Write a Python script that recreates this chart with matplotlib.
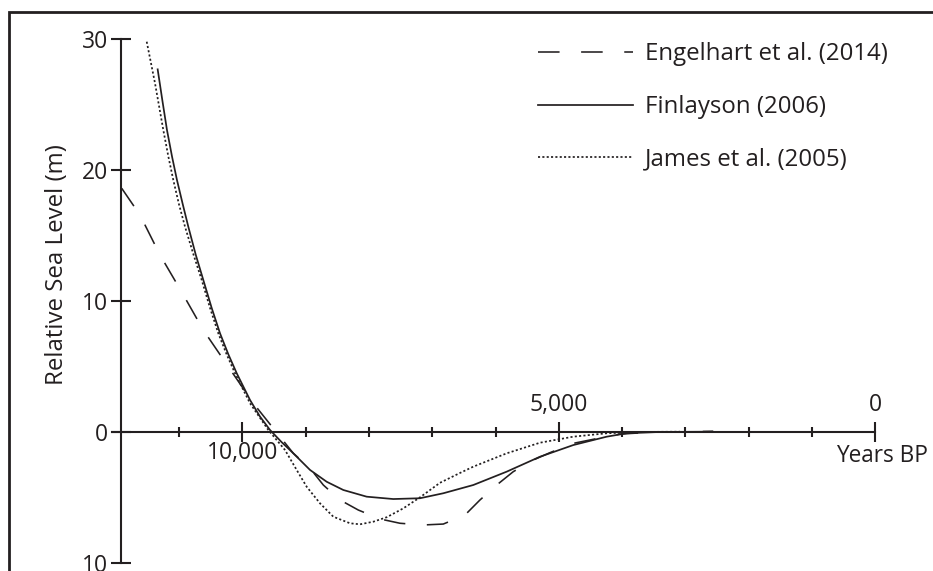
import matplotlib
matplotlib.use("Agg")
import matplotlib.pyplot as plt
from matplotlib.lines import Line2D
from matplotlib.ticker import FixedLocator, FixedFormatter

# ---------------- data (years BP, relative sea level in m) ----------------
engelhart_years = [11905, 11616, 11300, 10957, 10616, 10221, 9826, 9404, 9194, 8930,
                   8720, 8457, 8167, 7825, 7509, 7141, 6825, 6482, 6245, 5981,
                   5719, 5403, 5139, 4771, 4455, 4033, 3559, 2564]
engelhart_rsl = [18.58, 16.54, 13.49, 10.66, 7.76, 4.96, 2.17, -0.38, -1.65, -2.79,
                 -4.07, -5.21, -5.98, -6.66, -6.99, -7.12, -7.05, -6.36, -5.21, -4.07,
                 -3.05, -2.16, -1.60, -0.89, -0.58, -0.18, -0.05, 0.03]

finlayson_years = [11337, 11260, 11190, 11110, 11032, 10940, 10853, 10735, 10616, 10484,
                   10352, 10220, 10088, 9878, 9720, 9562, 9378, 9194, 8930, 8667,
                   8404, 8035, 7615, 7193, 6825, 6351, 5823, 5297, 4771, 4243,
                   3927, 3401, 2564]
finlayson_rsl = [27.66, 25.20, 23.03, 21.00, 19.21, 17.35, 15.65, 13.50, 11.58, 9.45,
                 7.51, 5.90, 4.46, 2.42, 1.15, 0.13, -0.80, -1.65, -2.92, -3.82,
                 -4.45, -4.96, -5.14, -5.08, -4.70, -4.07, -3.05, -1.91, -1.02, -0.38,
                 -0.12, -0.02, 0.0]

james_years = [11510, 11379, 11248, 11170, 11090, 11000, 10905, 10773, 10641, 10510,
               10379, 10247, 10115, 9878, 9589, 9325, 9141, 8983, 8772, 8562,
               8299, 8141, 7930, 7719, 7456, 7193, 6877, 6561, 6351, 5823,
               5297, 4771, 4243, 3717, 3085]
james_rsl = [29.77, 26.60, 23.03, 21.05, 19.21, 17.35, 15.65, 13.55, 11.58, 9.45,
             7.51, 5.90, 4.46, 2.17, 0.13, -1.40, -2.92, -4.20, -5.47, -6.49,
             -6.99, -7.07, -6.87, -6.53, -5.85, -5.01, -3.90, -3.15, -2.67, -1.65,
             -0.84, -0.38, -0.12, -0.02, 0.0]

series_labels = ["Engelhart et al. (2014)", "Finlayson (2006)", "James et al. (2005)"]

y_ticks = [30, 20, 10, 0, -10]
y_tick_labels = ["30", "20", "10", "0", "10"]
x_major = [10000, 5000, 0]
x_major_labels = ["10,000", "5,000", "0"]
x_minor = [11000, 9000, 8000, 7000, 6000, 4000, 3000, 2000, 1000]

# ---------------- styling ----------------
plt.rcParams['font.family'] = ['Open Sans', 'DejaVu Sans']
INK = '#231f20'
FS_TICK = 16.5
FS_LAB = 17.3

W, H = 933, 571
fig = plt.figure(figsize=(W / 100, H / 100), dpi=100)
ax = fig.add_axes([0, 0, 1, 1])
ax.set_facecolor('none')

# pixel -> data mapping derived from reference
def px_to_year(px):
    return 10000 - (px - 242.3) * 1000 / 63.3

def py_to_m(py):
    return (431.7 - py) / 13.1

ax.set_xlim(px_to_year(0), px_to_year(W))
ax.set_ylim(py_to_m(H), py_to_m(0))

# curves
ax.plot(engelhart_years, engelhart_rsl, color=INK, lw=1.15,
        linestyle=(0, (13.5, 13.5)), label=series_labels[0], solid_capstyle='butt',
        dash_capstyle='butt')
ax.plot(finlayson_years, finlayson_rsl, color=INK, lw=1.25, label=series_labels[1])
ax.plot(james_years, james_rsl, color=INK, lw=1.25,
        linestyle=(0, (1.2, 1.3)), label=series_labels[2])

# axes spines
for s in ['top', 'right']:
    ax.spines[s].set_visible(False)
ax.spines['left'].set_position(('data', px_to_year(121)))
ax.spines['left'].set_bounds(-10, 30)
ax.spines['bottom'].set_position(('data', 0))
ax.spines['bottom'].set_bounds(0, px_to_year(112))
for s in ['left', 'bottom']:
    ax.spines[s].set_linewidth(1.5)
    ax.spines[s].set_color(INK)

ax.yaxis.set_major_locator(FixedLocator(y_ticks))
ax.yaxis.set_major_formatter(FixedFormatter(y_tick_labels))
ax.tick_params(axis='y', direction='inout', length=14, width=1.5, color=INK,
               labelsize=FS_TICK, labelcolor=INK, pad=2.0)

ax.xaxis.set_major_locator(FixedLocator(x_major))
ax.xaxis.set_major_formatter(FixedFormatter([x_major_labels[0], '', '']))
ax.xaxis.set_minor_locator(FixedLocator(x_minor))
ax.tick_params(axis='x', which='major', direction='inout', length=14, width=1.5,
               color=INK, labelsize=FS_TICK, labelcolor=INK, pad=0.0)
ax.tick_params(axis='x', which='minor', direction='inout', length=7, width=1.5,
               color=INK)

# labels above axis for 5,000 and 0
for xv, lab in zip(x_major[1:], x_major_labels[1:]):
    ax.annotate(lab, xy=(xv, 0), xytext=(0, 19), textcoords='offset points',
                ha='center', va='center', fontsize=FS_TICK, color=INK)

ax.annotate("Years BP", xy=(0, 0), xytext=(-28, -17.5), textcoords='offset points',
            ha='left', va='center', fontsize=16.3, color=INK)

fig.text(57 / W, 1 - 265 / H, "Relative Sea Level (m)", rotation=90,
         ha='center', va='center', fontsize=FS_LAB, color=INK)

# legend
leg = ax.legend(loc='upper left', bbox_to_anchor=(538 / W, 1 - 42.5 / H),
                bbox_transform=fig.transFigure, frameon=False, fontsize=FS_LAB,
                handlelength=3.95, handletextpad=0.5, labelspacing=1.19,
                borderpad=0, borderaxespad=0)
for t in leg.get_texts():
    t.set_color(INK)

# outer frame (top and left border)
fig.add_artist(Line2D([9 / W, 9 / W, 1], [0, 1 - 11.7 / H, 1 - 11.7 / H],
                      transform=fig.transFigure, color=INK, lw=2.0,
                      solid_joinstyle='miter'))

fig.savefig("out.png", dpi=100)
